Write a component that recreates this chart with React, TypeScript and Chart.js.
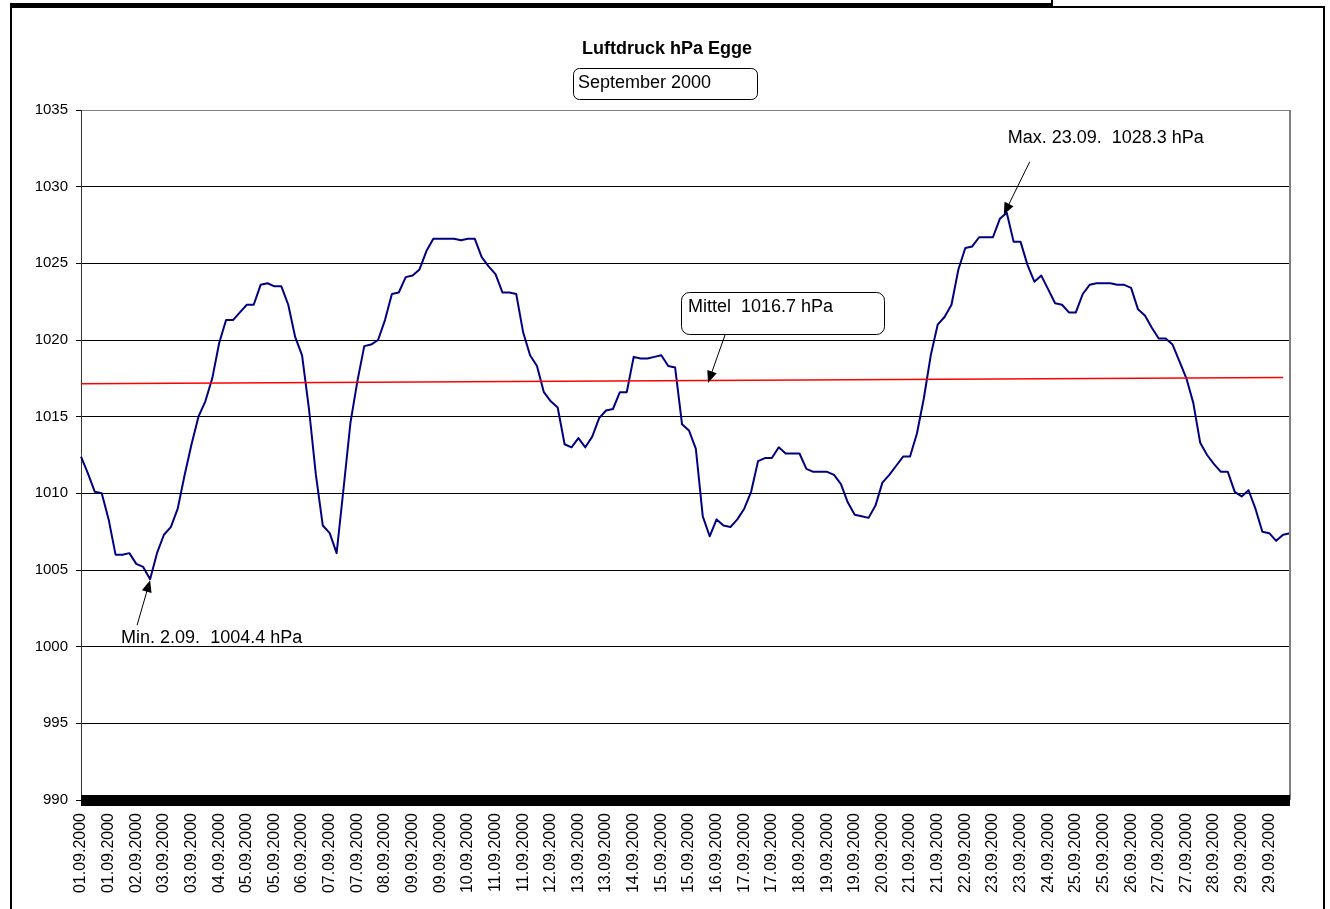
import React, { useEffect, useRef } from 'react';
import { Chart, registerables } from 'chart.js';

Chart.register(...registerables);

const TITLE = 'Luftdruck hPa Egge';
const SUBTITLE = 'September 2000';
const MAX_TEXT = 'Max. 23.09.  1028.3 hPa';
const MIN_TEXT = 'Min. 2.09.  1004.4 hPa';
const MEAN_TEXT = 'Mittel  1016.7 hPa';

const TICK_LABELS = [
  '01.09.2000', '01.09.2000', '02.09.2000', '03.09.2000', '03.09.2000',
  '04.09.2000', '05.09.2000', '05.09.2000', '06.09.2000', '07.09.2000',
  '07.09.2000', '08.09.2000', '09.09.2000', '09.09.2000', '10.09.2000',
  '11.09.2000', '11.09.2000', '12.09.2000', '13.09.2000', '13.09.2000',
  '14.09.2000', '15.09.2000', '15.09.2000', '16.09.2000', '17.09.2000',
  '17.09.2000', '18.09.2000', '19.09.2000', '19.09.2000', '20.09.2000',
  '21.09.2000', '21.09.2000', '22.09.2000', '23.09.2000', '23.09.2000',
  '24.09.2000', '25.09.2000', '25.09.2000', '26.09.2000', '27.09.2000',
  '27.09.2000', '28.09.2000', '29.09.2000', '29.09.2000',
];
const POINTS_PER_LABEL = 4;

// air pressure (hPa), one reading per 4 hours
const PRESSURE = [
  1012.4, 1011.3, 1010.1, 1010.0, 1008.3, 1006.0, 1006.0, 1006.1, 1005.4, 1005.2,
  1004.4, 1006.1, 1007.3, 1007.8, 1009.0, 1011.2, 1013.2, 1015.0, 1016.0, 1017.5,
  1019.8, 1021.3, 1021.3, 1021.8, 1022.3, 1022.3, 1023.6, 1023.7, 1023.5, 1023.5,
  1022.3, 1020.2, 1019.0, 1015.5, 1011.2, 1007.9, 1007.4, 1006.1, 1010.3, 1014.6,
  1017.3, 1019.6, 1019.7, 1020.0, 1021.3, 1023.0, 1023.1, 1024.1, 1024.2, 1024.6,
  1025.8, 1026.6, 1026.6, 1026.6, 1026.6, 1026.5, 1026.6, 1026.6, 1025.4, 1024.8,
  1024.3, 1023.1, 1023.1, 1023.0, 1020.5, 1019.0, 1018.3, 1016.6, 1016.0, 1015.6,
  1013.2, 1013.0, 1013.6, 1013.0, 1013.7, 1014.9, 1015.4, 1015.5, 1016.6, 1016.6,
  1018.9, 1018.8, 1018.8, 1018.9, 1019.0, 1018.3, 1018.2, 1014.5, 1014.1, 1012.9,
  1008.5, 1007.2, 1008.3, 1007.9, 1007.8, 1008.3, 1009.0, 1010.1, 1012.1, 1012.3,
  1012.3, 1013.0, 1012.6, 1012.6, 1012.6, 1011.6, 1011.4, 1011.4, 1011.4, 1011.2,
  1010.6, 1009.4, 1008.6, 1008.5, 1008.4, 1009.2, 1010.7, 1011.2, 1011.8, 1012.4,
  1012.4, 1013.9, 1016.2, 1019.0, 1021.0, 1021.5, 1022.3, 1024.6, 1026.0, 1026.1,
  1026.7, 1026.7, 1026.7, 1027.9, 1028.3, 1026.4, 1026.4, 1024.9, 1023.8, 1024.2,
  1023.3, 1022.4, 1022.3, 1021.8, 1021.8, 1023.0, 1023.6, 1023.7, 1023.7, 1023.7,
  1023.6, 1023.6, 1023.4, 1022.0, 1021.6, 1020.8, 1020.1, 1020.1, 1019.7, 1018.6,
  1017.5, 1015.9, 1013.3, 1012.5, 1011.9, 1011.4, 1011.4, 1010.1, 1009.8, 1010.2,
  1009.0, 1007.5, 1007.4, 1006.9, 1007.3, 1007.4,
];

// red trend line (start / end)
const TREND_INDEX = [0, 174];
const TREND_VALUES = [1017.15, 1017.56];

const MAX_INDEX = 134;
const MIN_INDEX = 10;

const Y_MIN = 990;
const Y_MAX = 1035;
const Y_STEP = 5;

const FONT = '"Liberation Sans", Arial, sans-serif';

const CATEGORIES = PRESSURE.map((_, i) =>
  i % POINTS_PER_LABEL === 0 && TICK_LABELS[i / POINTS_PER_LABEL] ? TICK_LABELS[i / POINTS_PER_LABEL] : ''
);
const TREND_DATA: (number | null)[] = PRESSURE.map(() => null);
TREND_INDEX.forEach((idx, k) => { TREND_DATA[idx] = TREND_VALUES[k]; });

function drawArrow(ctx: CanvasRenderingContext2D, x1: number, y1: number, x2: number, y2: number) {
  const ang = Math.atan2(y2 - y1, x2 - x1);
  const L = 12, W = 5;
  ctx.beginPath();
  ctx.moveTo(x1, y1);
  ctx.lineTo(x2 - L * 0.8 * Math.cos(ang), y2 - L * 0.8 * Math.sin(ang));
  ctx.stroke();
  ctx.beginPath();
  ctx.moveTo(x2, y2);
  ctx.lineTo(x2 - L * Math.cos(ang) + W * Math.sin(ang), y2 - L * Math.sin(ang) - W * Math.cos(ang));
  ctx.lineTo(x2 - L * Math.cos(ang) - W * Math.sin(ang), y2 - L * Math.sin(ang) + W * Math.cos(ang));
  ctx.closePath();
  ctx.fill();
}

function roundBox(ctx: CanvasRenderingContext2D, x: number, y: number, w: number, h: number, r: number) {
  ctx.beginPath();
  ctx.moveTo(x + r, y);
  ctx.lineTo(x + w - r, y);
  ctx.arcTo(x + w, y, x + w, y + r, r);
  ctx.lineTo(x + w, y + h - r);
  ctx.arcTo(x + w, y + h, x + w - r, y + h, r);
  ctx.lineTo(x + r, y + h);
  ctx.arcTo(x, y + h, x, y + h - r, r);
  ctx.lineTo(x, y + r);
  ctx.arcTo(x, y, x + r, y, r);
  ctx.closePath();
  ctx.fillStyle = '#fff';
  ctx.fill();
  ctx.strokeStyle = '#000';
  ctx.lineWidth = 1;
  ctx.stroke();
}

const decorPlugin = {
  id: 'decor',
  afterDraw(chart: any) {
    const { ctx, chartArea, scales } = chart;
    const xs = scales.x;
    const ys = scales.y;
    ctx.save();

    // plot-area right border
    ctx.strokeStyle = '#808080';
    ctx.lineWidth = 2;
    ctx.beginPath();
    ctx.moveTo(chartArea.right, chartArea.top);
    ctx.lineTo(chartArea.right, chartArea.bottom);
    ctx.stroke();

    // dense category-axis tick band along the bottom of the plot
    ctx.fillStyle = '#000';
    ctx.fillRect(chartArea.left, chartArea.bottom - 5, chartArea.right - chartArea.left, 11);

    // title
    ctx.fillStyle = '#000';
    ctx.font = `bold 18px ${FONT}`;
    ctx.textAlign = 'center';
    ctx.textBaseline = 'alphabetic';
    ctx.fillText(TITLE, 667, 54);

    // subtitle box
    roundBox(ctx, 573.5, 68.5, 184, 31, 6);
    ctx.fillStyle = '#000';
    ctx.font = `18px ${FONT}`;
    ctx.textAlign = 'left';
    ctx.fillText(SUBTITLE, 578, 88);

    ctx.strokeStyle = '#000';
    ctx.fillStyle = '#000';
    ctx.lineWidth = 1;

    // max annotation
    const mx = xs.getPixelForValue(MAX_INDEX);
    const my = ys.getPixelForValue(PRESSURE[MAX_INDEX]);
    drawArrow(ctx, mx + 23, my - 51, mx - 3, my + 2);
    ctx.font = `18px ${FONT}`;
    ctx.fillText(MAX_TEXT, mx + 1, my - 70);

    // min annotation
    const nx = xs.getPixelForValue(MIN_INDEX);
    const ny = ys.getPixelForValue(PRESSURE[MIN_INDEX]);
    drawArrow(ctx, nx - 13, ny + 46, nx, ny + 1);
    ctx.fillText(MIN_TEXT, nx - 29, ny + 64);

    // mean annotation
    roundBox(ctx, 681.5, 292.5, 203, 42, 8);
    ctx.fillStyle = '#000';
    ctx.font = `18px ${FONT}`;
    ctx.fillText(MEAN_TEXT, 688, 312);
    ctx.strokeStyle = '#000';
    ctx.lineWidth = 1;
    drawArrow(ctx, 725, 335, 708, 383);

    ctx.restore();
  },
};

export default function App() {
  const ref = useRef<HTMLCanvasElement>(null);

  useEffect(() => {
    if (!ref.current) return;
    const chart = new Chart(ref.current, {
      type: 'line',
      data: {
        labels: CATEGORIES,
        datasets: [
          {
            label: 'Luftdruck',
            data: PRESSURE,
            borderColor: '#000080',
            borderWidth: 2,
            pointRadius: 0,
            tension: 0,
            borderJoinStyle: 'round',
            order: 2,
          },
          {
            label: 'Trend',
            data: TREND_DATA,
            borderColor: '#FF0000',
            borderWidth: 1.5,
            pointRadius: 0,
            spanGaps: true,
            order: 1,
          },
        ],
      },
      options: {
        responsive: false,
        devicePixelRatio: 1,
        animation: false,
        layout: { padding: { top: 110, right: 40, left: 0, bottom: 0 } },
        plugins: {
          legend: { display: false },
          tooltip: { enabled: false },
          title: { display: false },
        },
        scales: {
          x: {
            type: 'category',
            offset: false,
            grid: { display: false },
            border: { display: false },
            ticks: {
              autoSkip: false,
              maxRotation: 90,
              minRotation: 90,
              padding: 5,
              color: '#000',
              font: { family: FONT, size: 16 },
            },
            afterFit: (s: any) => { s.height = 109; },
          },
          y: {
            min: Y_MIN,
            max: Y_MAX,
            ticks: {
              stepSize: Y_STEP,
              padding: 8,
              color: '#000',
              font: { family: FONT, size: 15 },
              callback: (v: any) => String(v),
            },
            grid: {
              color: (c: any) => (c.tick && c.tick.value === Y_MAX ? '#808080' : '#000'),
              lineWidth: 1,
              drawTicks: true,
              tickLength: 5,
              tickColor: '#000',
            },
            border: { display: true, color: '#333', width: 1 },
            afterFit: (s: any) => { s.width = 81; },
          },
        },
      },
      plugins: [decorPlugin],
    } as any);
    return () => chart.destroy();
  }, []);

  return (
    <div style={{ position: 'absolute', left: 0, top: 0, width: 1330, height: 909, overflow: 'hidden', background: '#fff' }}>
      <div style={{ position: 'absolute', left: 10, top: -20, width: 1041, height: 23, borderRight: '2px solid #000', borderBottom: '5px solid #000' }} />
      <div style={{ position: 'absolute', left: 10, top: 6, width: 1311, height: 1000, border: '2px solid #000' }} />
      <canvas ref={ref} width={1330} height={909} style={{ position: 'absolute', left: 0, top: 0 }} />
    </div>
  );
}
